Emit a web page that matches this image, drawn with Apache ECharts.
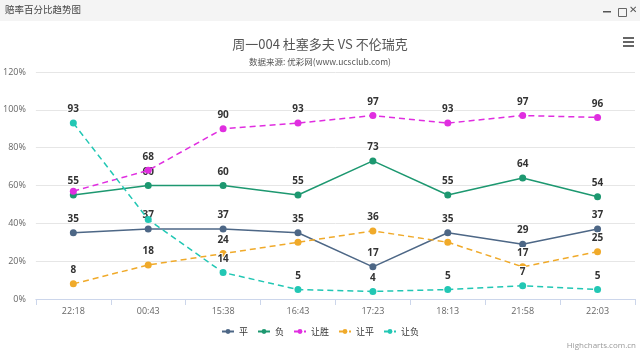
<!DOCTYPE html>
<html><head><meta charset="utf-8">
<script src="https://cdn.jsdelivr.net/npm/echarts@6/dist/echarts.min.js"></script>
<style>html,body{margin:0;padding:0;background:#fff}#c{width:640px;height:351px}</style>
</head><body><div id="c"></div>
<script>
const categories = ['22:18','00:43','15:38','16:43','17:23','18:13','21:58','22:03'];
const ping = [35,37,37,35,17,35,29,37];
const fu = [55,60,60,55,73,55,64,54];
const rangSheng = [57,68,90,93,97,93,97,96];
const rangPing = [8,18,24,30,36,30,17,25];
const rangFu = [93,42,14,5,4,5,7,5];
const yTicks = [0,20,40,60,80,100,120];
// labels hidden in the reference because of overlap
const hiddenLabels = {'让胜':[0], '让平':[3,5], '让负':[1]};

const defs = [
  {name:'平', data:ping, color:'#4d6786', dash:false},
  {name:'负', data:fu, color:'#1d9870', dash:false},
  {name:'让胜', data:rangSheng, color:'#e02ee0', dash:true},
  {name:'让平', data:rangPing, color:'#f0aa2a', dash:true},
  {name:'让负', data:rangFu, color:'#22c7b4', dash:true}
];
const series = defs.map((d,k) => ({
  name: d.name, type:'line', color:d.color,
  symbol:'circle', symbolSize:7, z: 2 + k,
  lineStyle:{width:1.5, type: d.dash ? [6,4] : 'solid'},
  data: d.data.map((v,i) => ({value:v, label:{show: !(hiddenLabels[d.name]||[]).includes(i)}})),
  label:{show:true, position:'top', distance:5, color:'#333', fontSize:10, fontWeight:'bold', fontFamily:'Open Sans',
    textBorderColor:'#fff', textBorderWidth:2},
  emphasis:{disabled:true}, animation:false
}));

const chart = echarts.init(document.getElementById('c'));
chart.setOption({
  animation:false,
  title:[
    {text:'周一004 杜塞多夫 VS 不伦瑞克', left:'center', top:33, textStyle:{fontSize:13, fontWeight:'normal', color:'#555', fontFamily:'Noto Sans CJK SC'}},
    {text:'数据来源: 优彩网(www.ucsclub.com)', left:'center', top:53, textStyle:{fontSize:8.5, fontWeight:'normal', color:'#555', fontFamily:'Noto Sans CJK SC'}}
  ],
  graphic:[
    {type:'rect', left:0, top:0, shape:{width:640, height:21}, style:{fill:'#f4f4f4'}},
    {type:'text', left:5, top:5, style:{text:'赔率百分比趋势图', fontSize:9.5, fill:'#444', fontFamily:'Noto Sans CJK SC'}},
    {type:'rect', left:603, top:11, shape:{width:8, height:1.5}, style:{fill:'#555'}},
    {type:'rect', left:616, top:6, shape:{width:8, height:8}, style:{fill:'none', stroke:'#666', lineWidth:1}},
    {type:'text', left:629, top:5, style:{text:'✕', fontSize:10, fill:'#555'}},
    {type:'rect', left:623, top:37, shape:{width:11, height:2}, style:{fill:'#666'}},
    {type:'rect', left:623, top:41, shape:{width:11, height:2}, style:{fill:'#666'}},
    {type:'rect', left:623, top:45, shape:{width:11, height:2}, style:{fill:'#666'}},
    {type:'text', right:4, bottom:1, style:{text:'Highcharts.com.cn', fontSize:8, fill:'#999', fontFamily:'Open Sans'}}
  ],
  legend:{bottom:10, left:'center', itemWidth:12, itemHeight:6, itemGap:9,
    textStyle:{fontSize:9, color:'#333', fontFamily:'Noto Sans CJK SC'},
    data: defs.map(d=>d.name)},
  grid:{left:35, right:5, top:72, bottom:52},
  xAxis:{type:'category', data:categories, boundaryGap:true,
    axisLine:{lineStyle:{color:'#ccd6eb'}},
    axisTick:{show:true, length:6, lineStyle:{color:'#ccd6eb'}},
    axisLabel:{color:'#666', fontSize:9, margin:8, fontFamily:'Open Sans'}},
  yAxis:{type:'value', min:yTicks[0], max:yTicks[yTicks.length-1], interval:20,
    axisLabel:{formatter:'{value}%', color:'#666', fontSize:9, margin:10, fontFamily:'Open Sans'},
    splitLine:{lineStyle:{color:'#e6e6e6'}}, axisLine:{show:false}, axisTick:{show:false}},
  series
});
</script></body></html>
